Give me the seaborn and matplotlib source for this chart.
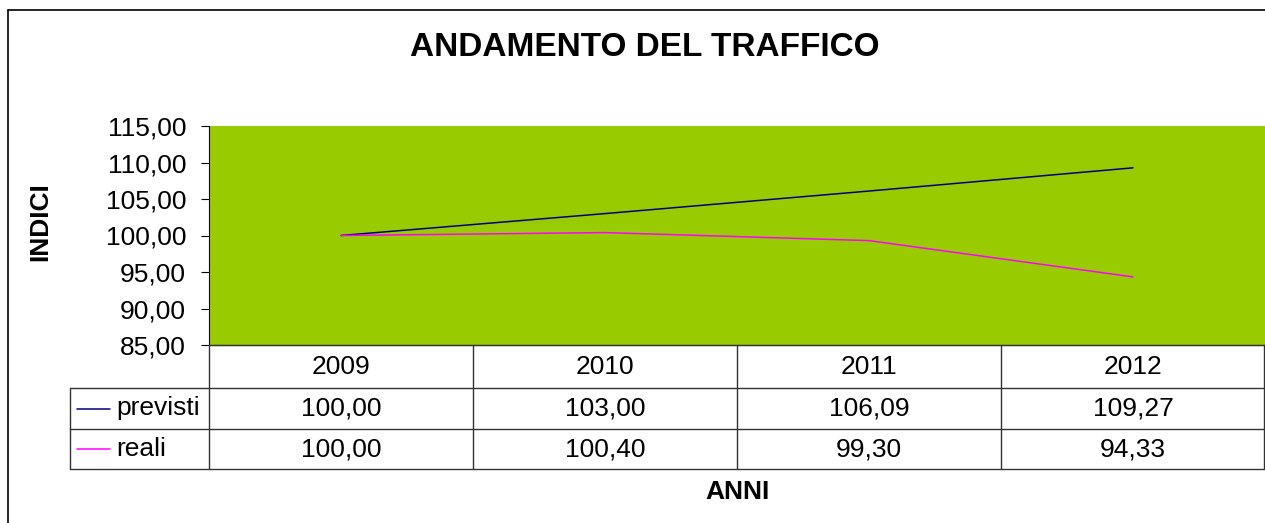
import matplotlib
matplotlib.use("Agg")
import matplotlib.pyplot as plt
from matplotlib.lines import Line2D
import seaborn as sns
import pandas as pd

years = ["2009", "2010", "2011", "2012"]
previsti = [100.00, 103.00, 106.09, 109.27]
reali = [100.00, 100.40, 99.30, 94.33]
series_names = ["previsti", "reali"]
series_colors = ["#000080", "#FF00FF"]
yticks = [85, 90, 95, 100, 105, 110, 115]

sns.set_style("white")
plt.rcParams['font.family'] = ['Liberation Sans', 'DejaVu Sans']
plt.rcParams['text.color'] = 'black'
plt.rcParams['ytick.color'] = 'black'
plt.rcParams['ytick.labelcolor'] = 'black'

FS = 19

W, H = 1265, 523
fig = plt.figure(figsize=(W / 100, H / 100), dpi=100)

def fx(px):
    return px / W

def fy(py):
    return 1 - py / H

# plot area
x0, x1 = 209, 1265
y_top, y_bot = 126, 345
ax = fig.add_axes([fx(x0), fy(y_bot), fx(x1) - fx(x0), fy(y_top) - fy(y_bot)])
ax.set_facecolor("#99CC00")

df = pd.DataFrame({"anno": list(range(len(years))) * 2,
                   "valore": previsti + reali,
                   "serie": [series_names[0]] * len(years) + [series_names[1]] * len(years)})
sns.lineplot(data=df, x="anno", y="valore", hue="serie", palette=series_colors,
             linewidth=1.1, ax=ax, legend=False)

ax.set_xlim(-0.5, len(years) - 0.5)
ax.set_ylim(85, 115)
ax.set_yticks(yticks)
ax.set_yticklabels([f"{v:.2f}".replace(".", ",") for v in yticks], fontsize=FS, color="black")
ax.set_xticks([])
ax.set_xlabel("")
ax.set_ylabel("")
for s in ["top", "right"]:
    ax.spines[s].set_visible(False)
ax.spines["left"].set_color("black")
ax.spines["bottom"].set_color("black")
ax.spines["left"].set_linewidth(0.8)
ax.spines["bottom"].set_linewidth(0.8)
ax.tick_params(axis="y", which="both", left=True, length=5.5, width=0.8, color="black", pad=11)

# title and axis labels
fig.text(fx(645), fy(48), "ANDAMENTO DEL TRAFFICO", ha="center", va="center",
         fontsize=24, fontweight="bold", color="black")
fig.text(fx(40), fy(222), "INDICI", ha="center", va="center", rotation=90,
         fontsize=FS, fontweight="bold", color="black")
fig.text(fx(737), fy(492), "ANNI", ha="center", va="center",
         fontsize=FS, fontweight="bold", color="black")

# outer border (top and left visible)
fig.add_artist(Line2D([fx(8), fx(1265)], [fy(10), fy(10)], color="black", lw=1.2))
fig.add_artist(Line2D([fx(8), fx(8)], [fy(10), fy(523)], color="black", lw=1.2))

# data table
row_y = [345, 388, 429, 469]
lab_x0 = 70
col_w = (x1 - x0) / len(years)
lc = "#333333"
fig.add_artist(Line2D([fx(x0), fx(x1 - 1)], [fy(row_y[0]), fy(row_y[0])], color=lc, lw=1))
for yy in row_y[1:]:
    fig.add_artist(Line2D([fx(lab_x0), fx(x1 - 1)], [fy(yy), fy(yy)], color=lc, lw=1))
fig.add_artist(Line2D([fx(lab_x0), fx(lab_x0)], [fy(row_y[1]), fy(row_y[3])], color=lc, lw=1))
for i in range(len(years) + 1):
    xx = x0 + i * col_w
    if i == len(years):
        xx = x1 - 1
    fig.add_artist(Line2D([fx(xx), fx(xx)], [fy(row_y[0]), fy(row_y[3])], color=lc, lw=1))

def fmt(v):
    return f"{v:.2f}".replace(".", ",")

for i, yr in enumerate(years):
    cx = x0 + (i + 0.5) * col_w
    fig.text(fx(cx), fy((row_y[0] + row_y[1]) / 2), yr, ha="center", va="center", fontsize=FS)
    fig.text(fx(cx), fy((row_y[1] + row_y[2]) / 2), fmt(previsti[i]), ha="center", va="center", fontsize=FS)
    fig.text(fx(cx), fy((row_y[2] + row_y[3]) / 2), fmt(reali[i]), ha="center", va="center", fontsize=FS)

for r, (name, col) in enumerate(zip(series_names, series_colors)):
    yc = (row_y[r + 1] + row_y[r + 2]) / 2
    fig.add_artist(Line2D([fx(77), fx(110)], [fy(yc), fy(yc)], color=col, lw=1.1))
    fig.text(fx(116), fy(yc), name, ha="left", va="center", fontsize=FS)

fig.savefig("out.png", dpi=100)
